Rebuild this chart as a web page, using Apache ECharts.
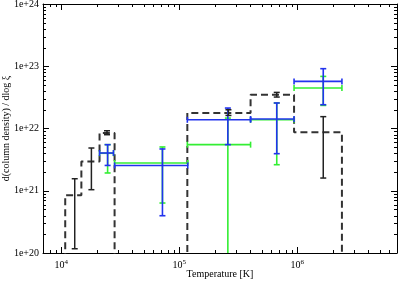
<!DOCTYPE html>
<html>
<head>
<meta charset="utf-8">
<script src="https://cdn.jsdelivr.net/npm/echarts@6/dist/echarts.min.js"></script>
<style>
    html, body {margin: 0; padding: 0; background: #fff;}
    #et1 {width: 399px; height: 281px;}
</style>
</head>
<body>
<div id="et1"></div>
<script>
// histogram (black dashed): bin edges [K] and values
var binEdges = [1.08e4, 1.48e4, 2.11e4, 2.83e4, 1.17e5, 4.02e5, 9.39e5, 2.39e6];
var binValues = [8.5e20, 2.96e21, 8.5e21, 1e19, 1.77e22, 3.49e22, 8.7e21];
var histFloor = 1e19;

// black error bars
var blackX = [1.30e4, 1.80e4, 2.44e4, 2.61e5, 6.7e5, 1.66e6];
var blackLow = [1.17e20, 1.04e21, 7.95e21, 1.62e22, 3.2e22, 1.6e21];
var blackHigh = [1.56e21, 4.86e21, 9.2e21, 2.0e22, 3.8e22, 1.55e22];

// blue points
var blueX = [2.47e4, 7.2e4, 2.58e5, 6.7e5, 1.66e6];
var blueXLow = [2.11e4, 2.83e4, 1.17e5, 4.02e5, 9.39e5];
var blueXHigh = [2.77e4, 1.18e5, 4.02e5, 9.39e5, 2.39e6];
var blueY = [4.04e21, 2.55e21, 1.38e22, 1.42e22, 5.71e22];
var blueLow = [2.55e21, 3.97e20, 5.5e21, 3.94e21, 2.41e22];
var blueHigh = [5.5e21, 4.69e21, 2.13e22, 2.57e22, 9.14e22];

// green points
var greenX = [2.47e4, 7.2e4, 2.58e5, 6.7e5, 1.66e6];
var greenXLow = [2.11e4, 2.83e4, 1.17e5, 4.02e5, 9.39e5];
var greenXHigh = [2.77e4, 1.18e5, 4.02e5, 9.39e5, 2.39e6];
var greenY = [4.0e21, 2.79e21, 5.5e21, 1.38e22, 4.48e22];
var greenLow = [1.93e21, 6.35e20, 1e19, 2.62e21, 2.35e22];
var greenHigh = [5.5e21, 5.05e21, 1.47e22, 2.57e22, 6.87e22];

// axes
var xMin = 7e3, xMax = 7e6;
var yMin = 1e20, yMax = 1e24;
var yTickLabels = ['1e+20', '1e+21', '1e+22', '1e+23', '1e+24'];
var xTickExps = ['4', '5', '6'];

~function () {
    var myChart = echarts.init(document.getElementById('et1'));
    var font = 'Liberation Serif';

    var histPoints = [[binEdges[0], histFloor]];
    for (var i = 0; i < binValues.length; i++) {
        histPoints.push([binEdges[i], binValues[i]]);
        histPoints.push([binEdges[i + 1], binValues[i]]);
    }
    histPoints.push([binEdges[binEdges.length - 1], histFloor]);

    function rows(x, xl, xh, y, yl, yh) {
        var out = [];
        for (var i = 0; i < x.length; i++) {
            out.push([x[i], y ? y[i] : yl[i], xl ? xl[i] : x[i], xh ? xh[i] : x[i], yl[i], yh[i]]);
        }
        return out;
    }

    function errRender(color, width) {
        return function (params, api) {
            var x = api.value(0), y = api.value(1);
            var c = api.coord([x, y]);
            var lo = api.coord([api.value(2), api.value(4)]);
            var hi = api.coord([api.value(3), api.value(5)]);
            var st = {stroke: color, lineWidth: width};
            var cap = 3;
            var kids = [
                {type: 'line', shape: {x1: c[0], y1: lo[1], x2: c[0], y2: hi[1]}, style: st},
                {type: 'line', shape: {x1: c[0] - cap, y1: lo[1], x2: c[0] + cap, y2: lo[1]}, style: st},
                {type: 'line', shape: {x1: c[0] - cap, y1: hi[1], x2: c[0] + cap, y2: hi[1]}, style: st}
            ];
            if (hi[0] - lo[0] > 1) {
                kids.push({type: 'line', shape: {x1: lo[0], y1: c[1], x2: hi[0], y2: c[1]}, style: st});
                kids.push({type: 'line', shape: {x1: lo[0], y1: c[1] - cap, x2: lo[0], y2: c[1] + cap}, style: st});
                kids.push({type: 'line', shape: {x1: hi[0], y1: c[1] - cap, x2: hi[0], y2: c[1] + cap}, style: st});
            }
            return {type: 'group', children: kids};
        };
    }

    // minor ticks 2..9 per decade
    var minor = [];
    for (var e = 3; e <= 6; e++) {
        for (var k = 2; k <= 9; k++) {
            var v = k * Math.pow(10, e);
            if (v > xMin * 0.999 && v < xMax * 1.001) minor.push([v, 1e22, 0]);
        }
    }
    for (var e2 = 20; e2 < 24; e2++) {
        for (var k2 = 2; k2 <= 9; k2++) {
            minor.push([1e4, k2 * Math.pow(10, e2), 1]);
        }
    }

    function minorRender(params, api) {
        var cs = params.coordSys;
        var p = api.coord([api.value(0), api.value(1)]);
        var st = {stroke: '#000', lineWidth: 1};
        var len = 3;
        if (api.value(2) === 0) {
            var px = Math.round(p[0]) + 0.5;
            return {type: 'group', children: [
                {type: 'line', shape: {x1: px, y1: cs.y + cs.height, x2: px, y2: cs.y + cs.height - len}, style: st},
                {type: 'line', shape: {x1: px, y1: cs.y, x2: px, y2: cs.y + len}, style: st}
            ]};
        }
        var py = Math.round(p[1]) + 0.5;
        return {type: 'group', children: [
            {type: 'line', shape: {x1: cs.x, y1: py, x2: cs.x + len, y2: py}, style: st},
            {type: 'line', shape: {x1: cs.x + cs.width, y1: py, x2: cs.x + cs.width - len, y2: py}, style: st}
        ]};
    }

    var axisLine = {onZero: false, lineStyle: {color: '#000', width: 1}};
    var tick = {inside: true, length: 6, lineStyle: {color: '#000', width: 1}};

    var option = {
        animation: false,
        grid: {left: 43, right: 2, top: 4, bottom: 28, containLabel: false, outerBoundsMode: 'none'},
        xAxis: [
            {
                type: 'log',
                logBase: 10,
                min: xMin,
                max: xMax,
                position: 'bottom',
                axisLine: axisLine,
                axisTick: tick,
                splitLine: {show: false},
                axisLabel: {
                    margin: 6,
                    showMinLabel: false,
                    showMaxLabel: false,
                    formatter: function (v) {
                        var ex = Math.round(Math.log10(v));
                        return '{b|10}{s|' + xTickExps[ex - 4] + '}';
                    },
                    rich: {
                        b: {fontFamily: font, fontSize: 10, color: '#000'},
                        s: {fontFamily: font, fontSize: 7, color: '#000', verticalAlign: 'top', padding: [0, 0, 6, 0]}
                    }
                },
                name: 'Temperature [K]',
                nameLocation: 'middle',
                nameGap: 16,
                nameMoveOverlap: false,
                nameTextStyle: {fontFamily: font, fontSize: 10, color: '#000'}
            },
            {
                type: 'log',
                logBase: 10,
                min: xMin,
                max: xMax,
                position: 'top',
                axisLine: axisLine,
                axisTick: tick,
                splitLine: {show: false},
                axisLabel: {show: false}
            }
        ],
        yAxis: [
            {
                type: 'log',
                logBase: 10,
                min: yMin,
                max: yMax,
                position: 'left',
                axisLine: axisLine,
                axisTick: tick,
                splitLine: {show: false},
                axisLabel: {
                    margin: 4,
                    fontFamily: font,
                    fontSize: 10,
                    color: '#000',
                    formatter: function (v) {
                        return yTickLabels[Math.round(Math.log10(v)) - 20];
                    }
                },
                name: 'd(column density) / dlog ξ',
                nameLocation: 'middle',
                nameGap: 32,
                nameMoveOverlap: false,
                nameTextStyle: {fontFamily: font, fontSize: 10, color: '#000'}
            },
            {
                type: 'log',
                logBase: 10,
                min: yMin,
                max: yMax,
                position: 'right',
                axisLine: axisLine,
                axisTick: tick,
                splitLine: {show: false},
                axisLabel: {show: false}
            }
        ],
        series: [
            {
                type: 'custom',
                silent: true,
                renderItem: minorRender,
                data: minor,
                encode: {x: 0, y: 1},
                z: 1
            },
            {
                type: 'line',
                data: histPoints,
                symbol: 'none',
                clip: true,
                lineStyle: {color: '#333', width: 2, type: [7, 4]},
                z: 2
            },
            {
                type: 'custom',
                clip: true,
                renderItem: errRender('#33ee33', 1.6),
                data: rows(greenX, greenXLow, greenXHigh, greenY, greenLow, greenHigh),
                encode: {x: 0, y: 1},
                z: 3
            },
            {
                type: 'custom',
                clip: true,
                renderItem: errRender('#2233ee', 1.6),
                data: rows(blueX, blueXLow, blueXHigh, blueY, blueLow, blueHigh),
                encode: {x: 0, y: 1},
                z: 4
            },
            {
                type: 'custom',
                clip: true,
                renderItem: errRender('#222', 1.5),
                data: rows(blackX, null, null, null, blackLow, blackHigh),
                encode: {x: 0, y: 1},
                z: 5
            }
        ]
    };
    myChart.setOption(option);
}();
</script>
</body>
</html>
